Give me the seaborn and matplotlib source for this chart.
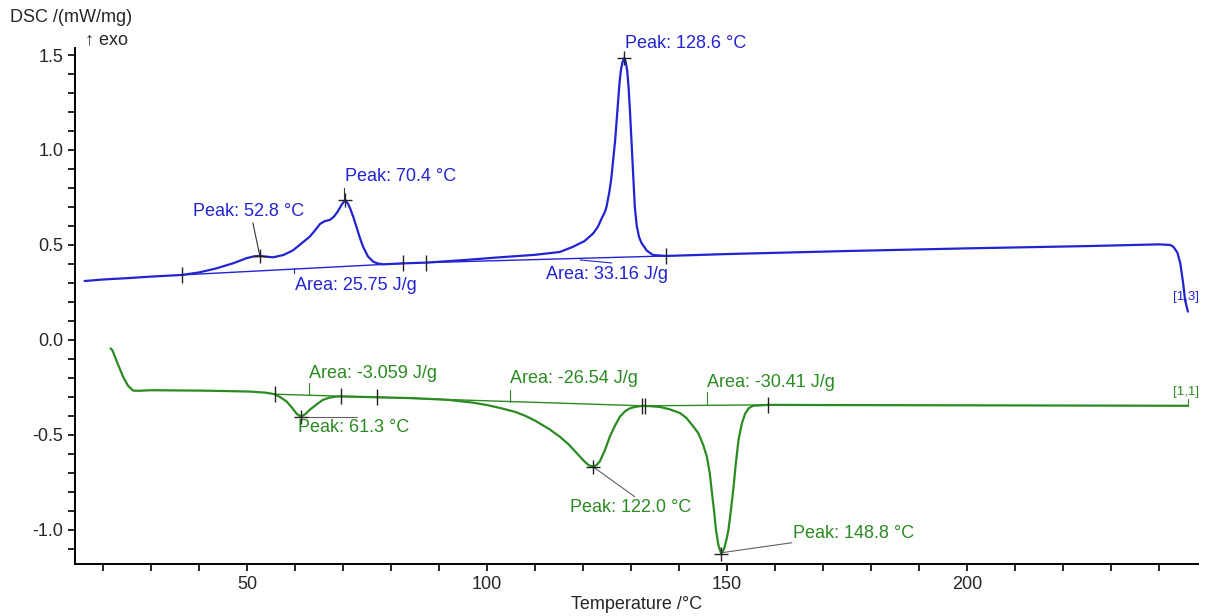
import numpy as np
import pandas as pd
import matplotlib
matplotlib.use("Agg")
import matplotlib.pyplot as plt
from matplotlib.ticker import MultipleLocator
import seaborn as sns

# heating run (blue, exo up)
heat_T = [16.2, 20, 25, 29.8, 36.4, 40, 43.7, 47.2, 49.9, 51.5, 52.8, 54, 55.5, 57.6,
          59.5, 61, 63.1, 64.3, 65.2, 66.2, 67.3, 68.1, 68.9, 69.7, 70.4, 71.0, 71.5,
          72.2, 72.8, 73.5, 74.2, 75.2, 76.3, 77.3, 78.4, 82.6, 87.4, 95, 102.7, 110,
          115.2, 117.9, 120.3, 122.1, 123.1, 123.9, 124.5, 124.9, 125.5, 125.9, 126.3,
          126.7, 127.0, 127.3, 127.6, 127.9, 128.2, 128.6, 128.9, 129.2, 129.5, 129.8,
          130.1, 130.4, 130.8, 131.2, 131.7, 132.2, 133.3, 134.6, 137.3,
          150, 175, 200, 225, 240, 242.3, 243.0, 243.8, 244.4, 245.0, 245.4, 246.0]
heat_dsc = [0.31, 0.318, 0.325, 0.333, 0.342, 0.355, 0.377, 0.404, 0.43, 0.44, 0.442,
            0.438, 0.435, 0.447, 0.47, 0.5, 0.544, 0.58, 0.61, 0.625, 0.632, 0.648, 0.675,
            0.71, 0.735, 0.72, 0.693, 0.645, 0.597, 0.54, 0.491, 0.44, 0.412, 0.402, 0.398,
            0.403, 0.407, 0.42, 0.435, 0.448, 0.463, 0.49, 0.52, 0.56, 0.595, 0.64, 0.67,
            0.70, 0.78, 0.85, 0.95, 1.05, 1.15, 1.25, 1.35, 1.42, 1.46, 1.484, 1.465,
            1.42, 1.33, 1.20, 1.05, 0.90, 0.70, 0.60, 0.54, 0.51, 0.47, 0.447, 0.442,
            0.452, 0.468, 0.482, 0.494, 0.503, 0.50, 0.49, 0.46, 0.405, 0.30, 0.21, 0.149]

# cooling run (green)
cool_T = [21.6, 22.0, 23.0, 24.2, 25.2, 26.3, 27.5, 30, 35, 40.2, 45, 50.6, 54, 55.8,
          57, 58.3, 59.5, 60.4, 61.3, 62.2, 63.1, 64.5, 65.8, 67.2, 68.7, 72, 77, 85,
          92, 97, 100, 103, 106, 108, 110, 113, 115.2, 117, 118.7, 120.3, 121.2, 122.0,
          122.8, 123.5, 124.5, 125.6, 126.7, 127.7, 128.8, 129.8, 131, 132.5, 134, 136,
          138, 140.2, 141.5, 142.8, 144, 145, 145.8, 146.4, 146.8, 147.3, 147.7, 148.2,
          148.8, 149.4, 149.9, 150.3, 150.8, 151.3, 151.8, 152.4, 153.1, 153.75, 154.5,
          155.4, 158.5, 170, 190, 210, 230, 246]
cool_dsc = [-0.045, -0.055, -0.12, -0.193, -0.24, -0.267, -0.268, -0.265, -0.266,
            -0.267, -0.269, -0.272, -0.278, -0.286, -0.302, -0.325, -0.36, -0.39, -0.404,
            -0.39, -0.368, -0.34, -0.316, -0.304, -0.298, -0.299, -0.302, -0.307, -0.316,
            -0.33, -0.343, -0.36, -0.38, -0.40, -0.425, -0.47, -0.51, -0.55, -0.596, -0.64,
            -0.66, -0.667, -0.66, -0.64, -0.585, -0.509, -0.45, -0.404, -0.375, -0.36,
            -0.352, -0.347, -0.349, -0.353, -0.365, -0.385, -0.41, -0.45, -0.49, -0.55,
            -0.614, -0.70, -0.79, -0.90, -1.0, -1.08, -1.126, -1.10, -1.05, -1.0, -0.90,
            -0.79, -0.66, -0.526, -0.44, -0.39, -0.36, -0.347, -0.342, -0.343, -0.344,
            -0.345, -0.346, -0.347]

# integration baselines (start, end)
heat_base_T = [[36.4, 82.6], [87.4, 137.3]]
heat_base_v = [[0.342, 0.403], [0.407, 0.442]]
cool_base_T = [[55.8, 77.0], [77.0, 132.5], [132.8, 158.5]]
cool_base_v = [[-0.286, -0.302], [-0.302, -0.347], [-0.347, -0.342]]

heat_peak_T = [52.8, 70.4, 128.6]
heat_peak_v = [0.442, 0.735, 1.484]
cool_peak_T = [61.3, 122.0, 148.8]
cool_peak_v = [-0.404, -0.667, -1.126]

heat_lim_T = [36.4, 82.6, 87.4, 137.3]
heat_lim_v = [0.342, 0.403, 0.407, 0.442]
cool_lim_T = [55.8, 69.7, 77.0, 132.2, 133.0, 158.5]
cool_lim_v = [-0.286, -0.298, -0.302, -0.347, -0.347, -0.342]

heat_area = [25.75, 33.16]
cool_area = [-3.059, -26.54, -30.41]

blue = "#2323d2"
green = "#2b8a22"
grey = "#606060"

sns.set_style("ticks")
plt.rcParams["font.family"] = ["Liberation Sans", "DejaVu Sans"]
plt.rcParams["axes.unicode_minus"] = False

fig = plt.figure(figsize=(12.08, 6.16), dpi=100)
ax = fig.add_axes([75 / 1208, 52 / 616, 1123 / 1208, 516 / 616])

sns.lineplot(x=heat_T, y=heat_dsc, ax=ax, color=blue, lw=1.6, sort=False, estimator=None)
sns.lineplot(x=cool_T, y=cool_dsc, ax=ax, color=green, lw=1.6, sort=False, estimator=None)
for bt, bv in zip(heat_base_T, heat_base_v):
    sns.lineplot(x=bt, y=bv, ax=ax, color=blue, lw=1.0, sort=False, estimator=None)
for bt, bv in zip(cool_base_T, cool_base_v):
    sns.lineplot(x=bt, y=bv, ax=ax, color=green, lw=1.0, sort=False, estimator=None)

# integration limits and peak crosses
sns.scatterplot(x=heat_lim_T + cool_lim_T, y=heat_lim_v + cool_lim_v, ax=ax,
                marker="|", s=130, color="#222222", linewidth=1.0, zorder=5)
sns.scatterplot(x=heat_peak_T + cool_peak_T, y=heat_peak_v + cool_peak_v, ax=ax,
                marker="+", s=110, color="#222222", linewidth=1.0, zorder=5)

fs = 13
# blue labels
ax.text(38.75, 0.674, f"Peak: {heat_peak_T[0]:.1f} °C", color=blue, fontsize=fs, va="center")
ax.plot([51.25, 52.7], [0.616, 0.442], color="#333333", lw=0.8)
ax.text(70.4, 0.858, f"Peak: {heat_peak_T[1]:.1f} °C", color=blue, fontsize=fs, va="center")
ax.plot([70.2, 70.2], [0.80, 0.735], color="#333333", lw=0.8)
ax.text(128.75, 1.563, f"Peak: {heat_peak_T[2]:.1f} °C", color=blue, fontsize=fs,
        va="center", clip_on=False)
ax.text(60.0, 0.289, f"Area: {heat_area[0]} J/g", color=blue, fontsize=fs, va="center")
ax.plot([59.8, 59.8], [0.379, 0.350], color=blue, lw=0.8)
ax.text(112.3, 0.342, f"Area: {heat_area[1]} J/g", color=blue, fontsize=fs, va="center")
ax.plot([119.4, 126.0], [0.421, 0.405], color=blue, lw=0.8)
ax.text(242.9, 0.226, "[1,3]", color=blue, fontsize=9.5, va="center")

# green labels
ax.text(62.9, -0.179, f"Area: {cool_area[0]} J/g", color=green, fontsize=fs, va="center")
ax.plot([62.9, 62.9], [-0.226, -0.289], color=green, lw=0.8)
ax.text(104.8, -0.205, f"Area: {cool_area[1]} J/g", color=green, fontsize=fs, va="center")
ax.plot([104.8, 104.8], [-0.263, -0.326], color=green, lw=0.8)
ax.text(145.8, -0.226, f"Area: {cool_area[2]} J/g", color=green, fontsize=fs, va="center")
ax.plot([145.8, 145.8], [-0.274, -0.342], color=green, lw=0.8)
ax.text(60.6, -0.463, f"Peak: {cool_peak_T[0]:.1f} °C", color=green, fontsize=fs, va="center")
ax.plot([60.0, 72.9], [-0.405, -0.405], color=grey, lw=0.8)
ax.text(117.3, -0.884, f"Peak: {cool_peak_T[1]:.1f} °C", color=green, fontsize=fs, va="center")
ax.plot([122.1, 130.8], [-0.668, -0.826], color=grey, lw=0.8)
ax.text(163.75, -1.021, f"Peak: {cool_peak_T[2]:.1f} °C", color=green, fontsize=fs, va="center")
ax.plot([148.75, 163.5], [-1.121, -1.068], color=grey, lw=0.8)
ax.text(242.9, -0.274, "[1,1]", color=green, fontsize=9.5, va="center")
ax.plot([246, 246], [-0.347, -0.31], color=green, lw=0.8)

ax.set_xlim(14.2, 248.1)
ax.set_ylim(-1.18, 1.537)
ax.xaxis.set_major_locator(MultipleLocator(50))
ax.xaxis.set_minor_locator(MultipleLocator(10))
ax.yaxis.set_major_locator(MultipleLocator(0.5))
ax.yaxis.set_minor_locator(MultipleLocator(0.1))
ax.yaxis.set_major_formatter(matplotlib.ticker.FormatStrFormatter("%.1f"))
ax.tick_params(which="both", direction="out", length=5, width=1.2, labelsize=fs, color="black")
for s in ["left", "bottom"]:
    ax.spines[s].set_linewidth(1.4)
    ax.spines[s].set_color("black")
sns.despine(ax=ax)
ax.set_xlabel("Temperature /°C", fontsize=fs, labelpad=2)
ax.set_ylabel("")

fig.text(10 / 1208, 1 - 17 / 616, "DSC /(mW/mg)", fontsize=fs, va="center", ha="left")
fig.text(85 / 1208, 1 - 40 / 616, "↑ exo", fontsize=fs, va="center", ha="left")

fig.savefig("out.png", dpi=100)
